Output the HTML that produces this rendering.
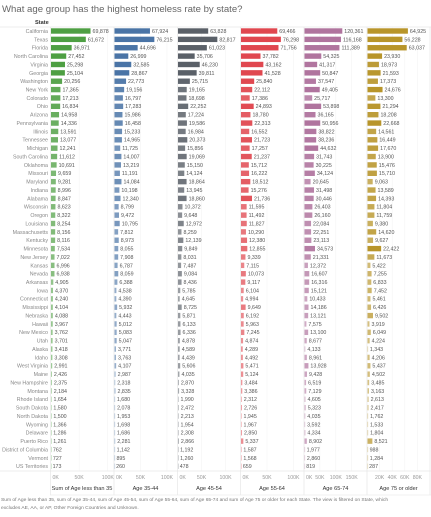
<!DOCTYPE html>
<html><head><meta charset="utf-8">
<style>
html,body{margin:0;padding:0;background:#fff;}
body{width:431px;height:512px;overflow:hidden;font-family:"Liberation Sans",sans-serif;}
svg text{font-family:"Liberation Sans",sans-serif;}
</style></head>
<body>
<svg id="chart" width="431" height="512" viewBox="0 0 431 512" xmlns="http://www.w3.org/2000/svg">
<text x="2" y="12" font-size="9.6" fill="#666">What age group has the highest homeless rate by state?</text>
<text x="35" y="24" font-size="5.6" font-weight="bold" fill="#333">State</text>
<line x1="0" y1="27" x2="431" y2="27" stroke="#ddd" stroke-width="0.6"/>
<g id="grid"></g><g id="rows"></g><g id="axes"></g>
<text x="1" y="501" font-size="4.9" fill="#777">Sum of Age less than 35, sum of Age 35-44, sum of Age 45-54, sum of Age 55-64, sum of Age 65-74 and sum of Age 75 or older for each State. The view is filtered on State, which</text>
<text x="1" y="509" font-size="4.9" fill="#777">excludes AE, AA, or AP, Other Foreign Countries and Unknown.</text>
</svg>
<script>
const states=["California","Texas","Florida","North Carolina","Virginia","Georgia","Washington","New York","Colorado","Ohio","Arizona","Pennsylvania","Illinois","Tennessee","Michigan","South Carolina","Oklahoma","Missouri","Maryland","Indiana","Alabama","Wisconsin","Oregon","Louisiana","Massachusetts","Kentucky","Minnesota","New Jersey","Kansas","Nevada","Arkansas","Iowa","Connecticut","Mississippi","Nebraska","Hawaii","New Mexico","Utah","Alaska","Idaho","West Virginia","Maine","New Hampshire","Montana","Rhode Island","South Dakota","North Dakota","Wyoming","Delaware","Puerto Rico","District of Columbia","Vermont","US Territories"];
const ageUnder35=[69878,61672,36971,27452,25298,25104,20256,17365,17213,16834,14958,14336,13591,13077,12241,11612,10691,9659,9281,8996,8847,8623,8322,8254,8156,8116,7534,7022,6996,6938,4905,4370,4240,4104,4088,3967,3762,3701,3418,3308,2991,2426,2375,2184,1654,1580,1500,1366,1286,1261,762,727,173];
const age35to44=[67924,76215,44696,26999,32585,28867,22773,19156,16797,17283,15986,16458,15233,14965,11725,14007,13219,11191,14084,10198,12340,8799,9472,10795,7812,8973,8055,7908,6787,8059,6388,4538,4390,5932,4443,5012,5083,5047,3771,3763,4107,2987,2318,2835,1680,2078,1953,1698,1686,2281,1142,895,260];
const age45to54=[63828,82817,61023,35706,46230,39811,25715,19165,18698,22252,17224,19586,16984,20373,15856,19069,15150,14124,18864,13945,18860,10372,9648,12972,8259,12139,9849,8031,7487,9084,8436,5785,4645,8725,5871,6133,6336,4878,4589,4439,5606,4035,2870,3328,1990,2472,2213,1954,2308,2866,1192,1260,478];
const age55to64=[69466,76298,71756,37782,43162,41528,25840,22112,17386,24893,18780,22313,16552,21723,17257,21237,15712,16222,18512,15276,21736,11595,11492,11827,10290,12380,12855,9339,7115,10073,9117,6104,4994,9649,6192,5963,7245,4874,4289,4492,5471,5124,3484,3386,2312,2726,1945,1967,2850,5337,1587,1568,659];
const age65to74=[120361,116168,111389,54325,41317,50847,37547,49405,25717,53898,36165,50956,38822,38236,44632,31743,30225,34124,20645,31498,30446,26403,26160,22084,22251,23113,34573,21331,12372,16607,16316,15121,10433,14186,13121,7575,13100,8677,4133,8961,13928,9428,6519,7129,4605,5323,4035,3592,4334,8902,1977,2860,819];
const age75plus=[64925,56228,63037,23930,18973,21593,17373,24676,13300,21294,18208,22668,14561,16449,17670,13900,15476,15710,9063,13589,14393,11804,11759,9380,14620,9627,22422,11673,5422,7255,6833,7452,5461,6426,9502,3919,6049,4224,1343,4206,5437,4502,3485,3163,2613,2417,1762,1533,1804,8521,988,1284,287];
const seriesTitles=["Sum of Age less than 35","Age 35-44","Age 45-54","Age 55-64","Age 65-74","Age 75 or older"];
const tickValsA=[0,50000,100000];
const tickValsB=[0,50000,100000,150000];
const tickValsC=[20000,40000,60000,80000];

const series=[ageUnder35,age35to44,age45to54,age55to64,age65to74,age75plus];
const ticks=[tickValsA,tickValsA,tickValsA,tickValsA,tickValsB,tickValsC];
const colors=["#4e9f43","#4a74a6","#5a6068","#e0474f","#b0749e","#b8952a"];
const panelX=[50.5,114,177.5,240.5,304,367];
const panelW=63;
const domainMax=[110000,119000,131000,119000,198000,100000];
const NS="http://www.w3.org/2000/svg";
const rowTop=31, rowStep=8.37;
function xScale(p,v){return panelX[p]+v/domainMax[p]*panelW;}
function yScale(i){return rowTop+i*rowStep;}
function mk(tag,attrs,parent){const e=document.createElementNS(NS,tag);for(const k in attrs)e.setAttribute(k,attrs[k]);parent.appendChild(e);return e;}
const grid=document.getElementById('grid'),rows=document.getElementById('rows'),axes=document.getElementById('axes');
for(let p=0;p<6;p++){
  const b=mk('line',{x1:panelX[p],x2:panelX[p],y1:27,y2:495,stroke:'#e2e2e2','stroke-width':0.6},grid);
  
  
  ticks[p].forEach(t=>{
    const x=xScale(p,t);
    if(t>0){const g=mk('line',{x1:x,x2:x,y1:27,y2:471,stroke:'#f2f2f2','stroke-width':0.5},grid);
      
      }
    const tx=mk('text',{x:x+(t===0?2:0),y:479,'font-size':5.2,fill:'#999','text-anchor':t===0?'start':'middle'},axes);
    tx.textContent=(t/1000)+'K';
    
    
  });
  const at=mk('text',{x:panelX[p]+panelW/2,y:490,'font-size':5.6,fill:'#333','text-anchor':'middle'},axes);
  at.textContent=seriesTitles[p];
  
  
}
const e1=mk('line',{x1:430,x2:430,y1:27,y2:495,stroke:'#e2e2e2','stroke-width':0.6},grid);


const ax=mk('line',{x1:0,x2:431,y1:471,y2:471,stroke:'#ddd','stroke-width':0.6},axes);


const ax2=mk('line',{x1:50,x2:431,y1:495,y2:495,stroke:'#e5e5e5','stroke-width':0.6},axes);



states.forEach((s,i)=>{
  const y=yScale(i);
  const lb=mk('text',{x:48,y:y+1.9,'font-size':5.3,fill:'#888','text-anchor':'end'},rows);
  lb.textContent=s;
  
  
  for(let p=0;p<6;p++){
    const v=series[p][i];
    const x0=panelX[p]+0.5, x1=xScale(p,v);
    const maxV=Math.max(...series[p]);
    const op=Math.min(1,0.3+0.7*Math.sqrt(v/(maxV*0.35)));
    const r=mk('rect',{x:x0,y:y-2.7,width:Math.max(0.6,x1-x0),height:5.4,fill:colors[p],'fill-opacity':op},rows);
    
    
    const t=mk('text',{x:x1+2,y:y+1.9,'font-size':5.3,fill:'#555'},rows);
    t.textContent=v.toLocaleString('en-US');
    
    
  }
});
</script>
</body></html>
